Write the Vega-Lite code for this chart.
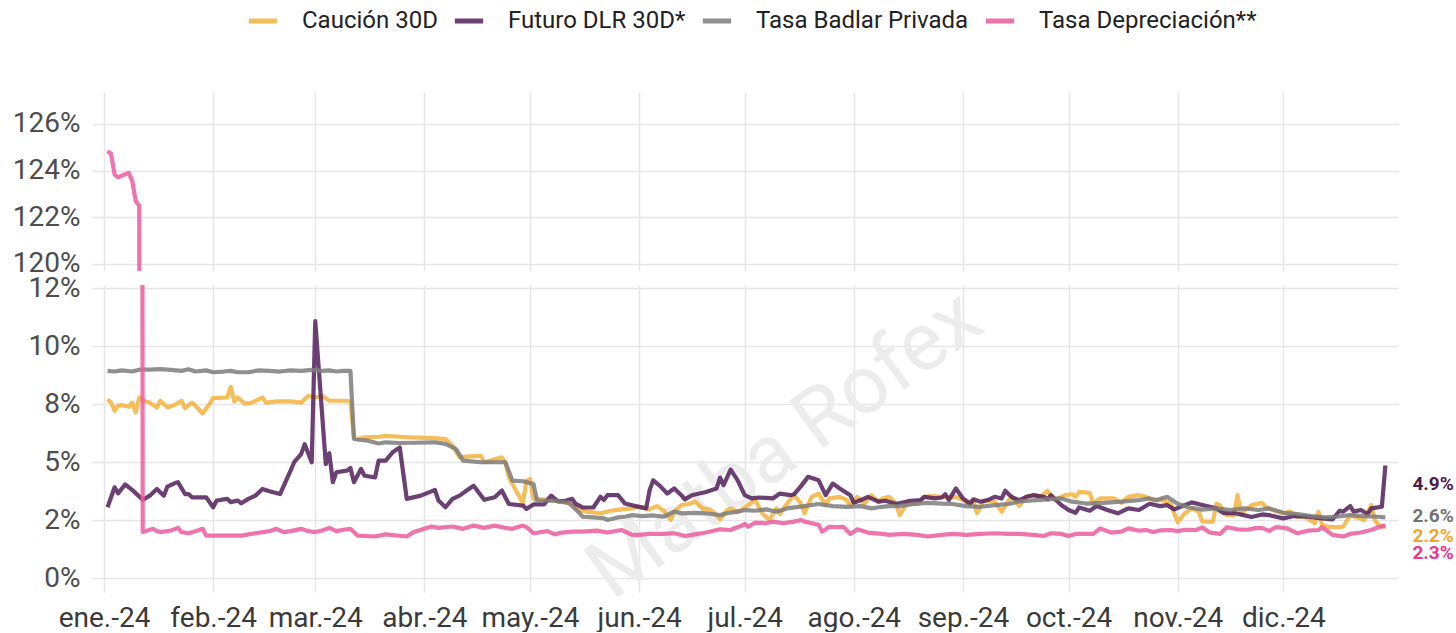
{
  "$schema": "https://vega.github.io/schema/vega-lite/v6.json",
  "background": "white",
  "padding": {"left": 0, "top": 4, "right": 0, "bottom": 0},
  "config": {
    "view": {"stroke": null},
    "font": "Roboto",
    "axis": {"grid": true, "gridColor": "#e6e6e6", "gridWidth": 1.6, "domain": false, "ticks": false, "title": null, "labelFont": "Roboto", "labelFontSize": 28, "labelColor": "#4d4d4d"}
  },
  "datasets": {
    "caucion": [
      {"date":"2024-01-02","value":7.71},{"date":"2024-01-03","value":7.56},{"date":"2024-01-04","value":7.21},{"date":"2024-01-05","value":7.42},{"date":"2024-01-06","value":7.46},{"date":"2024-01-08","value":7.38},{"date":"2024-01-09","value":7.56},{"date":"2024-01-10","value":7.13},{"date":"2024-01-11","value":7.78},{"date":"2024-01-12","value":7.66},{"date":"2024-01-14","value":7.56},{"date":"2024-01-16","value":7.35},{"date":"2024-01-17","value":7.64},{"date":"2024-01-19","value":7.35},{"date":"2024-01-21","value":7.46},{"date":"2024-01-23","value":7.64},{"date":"2024-01-24","value":7.32},{"date":"2024-01-26","value":7.56},{"date":"2024-01-27","value":7.42},{"date":"2024-01-29","value":7.09},{"date":"2024-01-31","value":7.5},
      {"date":"2024-02-01","value":7.75},{"date":"2024-02-05","value":7.78},{"date":"2024-02-06","value":8.24},{"date":"2024-02-07","value":7.61},{"date":"2024-02-08","value":7.78},{"date":"2024-02-10","value":7.52},{"date":"2024-02-12","value":7.56},{"date":"2024-02-15","value":7.78},{"date":"2024-02-16","value":7.56},{"date":"2024-02-19","value":7.61},{"date":"2024-02-23","value":7.61},{"date":"2024-02-26","value":7.56},{"date":"2024-02-28","value":7.85},
      {"date":"2024-03-01","value":7.78},{"date":"2024-03-03","value":7.85},{"date":"2024-03-05","value":7.64},{"date":"2024-03-10","value":7.64},{"date":"2024-03-11","value":7.61},{"date":"2024-03-12","value":6.06},{"date":"2024-03-13","value":5.99},{"date":"2024-03-15","value":6.06},{"date":"2024-03-19","value":6.09},{"date":"2024-03-21","value":6.13},{"date":"2024-03-25","value":6.09},{"date":"2024-03-28","value":6.06},
      {"date":"2024-04-04","value":6.03},{"date":"2024-04-07","value":5.99},{"date":"2024-04-09","value":5.7},{"date":"2024-04-11","value":5.2},{"date":"2024-04-13","value":5.23},{"date":"2024-04-17","value":5.27},{"date":"2024-04-18","value":4.99},{"date":"2024-04-23","value":5.2},{"date":"2024-04-24","value":4.99},{"date":"2024-04-25","value":4.34},{"date":"2024-04-27","value":3.77},{"date":"2024-04-29","value":3.22},{"date":"2024-04-30","value":4.2},
      {"date":"2024-05-01","value":4.27},{"date":"2024-05-02","value":3.41},{"date":"2024-05-04","value":3.4},{"date":"2024-05-07","value":3.36},{"date":"2024-05-10","value":3.29},{"date":"2024-05-13","value":3.19},{"date":"2024-05-15","value":2.93},{"date":"2024-05-17","value":2.86},{"date":"2024-05-21","value":2.79},{"date":"2024-05-24","value":2.9},{"date":"2024-05-27","value":2.96},{"date":"2024-05-30","value":3.0},
      {"date":"2024-06-01","value":3.07},{"date":"2024-06-04","value":2.96},{"date":"2024-06-06","value":3.1},{"date":"2024-06-08","value":2.9},{"date":"2024-06-10","value":2.5},{"date":"2024-06-11","value":2.86},{"date":"2024-06-13","value":3.14},{"date":"2024-06-15","value":3.19},{"date":"2024-06-17","value":3.29},{"date":"2024-06-19","value":3.0},{"date":"2024-06-21","value":2.96},{"date":"2024-06-22","value":2.86},{"date":"2024-06-24","value":2.53},{"date":"2024-06-26","value":2.93},{"date":"2024-06-27","value":3.0},{"date":"2024-06-29","value":2.86},{"date":"2024-06-30","value":2.93},
      {"date":"2024-07-02","value":3.14},{"date":"2024-07-04","value":3.36},{"date":"2024-07-06","value":2.79},{"date":"2024-07-08","value":2.5},{"date":"2024-07-10","value":3.0},{"date":"2024-07-11","value":2.75},{"date":"2024-07-13","value":3.21},{"date":"2024-07-15","value":3.57},{"date":"2024-07-17","value":3.21},{"date":"2024-07-18","value":2.79},{"date":"2024-07-20","value":3.5},{"date":"2024-07-22","value":3.64},{"date":"2024-07-24","value":3.14},{"date":"2024-07-25","value":3.43},{"date":"2024-07-28","value":3.5},{"date":"2024-07-30","value":3.36},{"date":"2024-07-31","value":3.1},
      {"date":"2024-08-02","value":3.5},{"date":"2024-08-04","value":3.21},{"date":"2024-08-06","value":3.57},{"date":"2024-08-08","value":3.29},{"date":"2024-08-09","value":3.43},{"date":"2024-08-11","value":3.5},{"date":"2024-08-13","value":3.21},{"date":"2024-08-14","value":2.71},{"date":"2024-08-16","value":3.19},{"date":"2024-08-19","value":3.19},{"date":"2024-08-21","value":3.5},{"date":"2024-08-23","value":3.53},{"date":"2024-08-26","value":3.5},{"date":"2024-08-28","value":3.47},{"date":"2024-08-30","value":3.5},
      {"date":"2024-09-02","value":3.29},{"date":"2024-09-04","value":3.33},{"date":"2024-09-05","value":2.79},{"date":"2024-09-07","value":3.33},{"date":"2024-09-10","value":3.29},{"date":"2024-09-12","value":2.86},{"date":"2024-09-14","value":3.36},{"date":"2024-09-15","value":3.5},{"date":"2024-09-17","value":3.1},{"date":"2024-09-19","value":3.5},{"date":"2024-09-21","value":3.57},{"date":"2024-09-23","value":3.5},{"date":"2024-09-25","value":3.76},{"date":"2024-09-27","value":3.36},{"date":"2024-09-30","value":3.57},
      {"date":"2024-10-02","value":3.61},{"date":"2024-10-03","value":3.5},{"date":"2024-10-04","value":3.71},{"date":"2024-10-07","value":3.67},{"date":"2024-10-08","value":3.21},{"date":"2024-10-10","value":3.43},{"date":"2024-10-14","value":3.43},{"date":"2024-10-16","value":3.24},{"date":"2024-10-18","value":3.5},{"date":"2024-10-21","value":3.57},{"date":"2024-10-23","value":3.5},{"date":"2024-10-25","value":3.36},{"date":"2024-10-28","value":3.36},{"date":"2024-10-30","value":3.21},
      {"date":"2024-11-01","value":2.4},{"date":"2024-11-03","value":2.79},{"date":"2024-11-05","value":3.0},{"date":"2024-11-07","value":2.86},{"date":"2024-11-08","value":2.43},{"date":"2024-11-11","value":2.43},{"date":"2024-11-12","value":3.21},{"date":"2024-11-13","value":3.14},{"date":"2024-11-15","value":2.71},{"date":"2024-11-17","value":2.71},{"date":"2024-11-18","value":3.57},{"date":"2024-11-19","value":2.79},{"date":"2024-11-22","value":3.14},{"date":"2024-11-25","value":3.24},{"date":"2024-11-26","value":3.07},{"date":"2024-11-28","value":2.93},
      {"date":"2024-12-01","value":2.79},{"date":"2024-12-03","value":2.86},{"date":"2024-12-05","value":2.64},{"date":"2024-12-07","value":2.64},{"date":"2024-12-10","value":2.36},{"date":"2024-12-11","value":2.86},{"date":"2024-12-12","value":2.29},{"date":"2024-12-14","value":2.19},{"date":"2024-12-16","value":2.19},{"date":"2024-12-18","value":2.21},{"date":"2024-12-20","value":2.71},{"date":"2024-12-22","value":2.61},{"date":"2024-12-24","value":2.5},{"date":"2024-12-26","value":3.14},{"date":"2024-12-27","value":2.5},{"date":"2024-12-28","value":2.29},{"date":"2024-12-30","value":2.19}
    ],
    "futuro": [
      {"date":"2024-01-02","value":3.05},{"date":"2024-01-04","value":3.91},{"date":"2024-01-05","value":3.65},{"date":"2024-01-07","value":4.03},{"date":"2024-01-09","value":3.8},{"date":"2024-01-12","value":3.37},{"date":"2024-01-14","value":3.55},{"date":"2024-01-16","value":3.84},{"date":"2024-01-18","value":3.55},{"date":"2024-01-19","value":3.94},{"date":"2024-01-21","value":4.08},{"date":"2024-01-22","value":4.13},{"date":"2024-01-24","value":3.62},{"date":"2024-01-25","value":3.62},{"date":"2024-01-26","value":3.48},{"date":"2024-01-30","value":3.48},
      {"date":"2024-02-01","value":3.05},{"date":"2024-02-02","value":3.34},{"date":"2024-02-05","value":3.41},{"date":"2024-02-06","value":3.27},{"date":"2024-02-08","value":3.34},{"date":"2024-02-09","value":3.22},{"date":"2024-02-11","value":3.41},{"date":"2024-02-13","value":3.55},{"date":"2024-02-15","value":3.84},{"date":"2024-02-17","value":3.74},{"date":"2024-02-20","value":3.62},{"date":"2024-02-23","value":4.63},{"date":"2024-02-24","value":4.99},{"date":"2024-02-26","value":5.34},{"date":"2024-02-27","value":5.77},{"date":"2024-02-29","value":4.99},
      {"date":"2024-03-01","value":11.07},{"date":"2024-03-04","value":4.91},{"date":"2024-03-05","value":5.38},{"date":"2024-03-06","value":4.13},{"date":"2024-03-07","value":4.56},{"date":"2024-03-10","value":4.63},{"date":"2024-03-11","value":4.74},{"date":"2024-03-12","value":4.13},{"date":"2024-03-14","value":4.7},{"date":"2024-03-15","value":4.41},{"date":"2024-03-18","value":4.34},{"date":"2024-03-19","value":5.06},{"date":"2024-03-21","value":5.06},{"date":"2024-03-23","value":5.42},{"date":"2024-03-25","value":5.63},{"date":"2024-03-27","value":3.41},{"date":"2024-03-31","value":3.55},
      {"date":"2024-04-04","value":3.8},{"date":"2024-04-05","value":3.34},{"date":"2024-04-07","value":3.05},{"date":"2024-04-09","value":3.41},{"date":"2024-04-11","value":3.55},{"date":"2024-04-13","value":3.77},{"date":"2024-04-15","value":3.98},{"date":"2024-04-18","value":3.37},{"date":"2024-04-21","value":3.48},{"date":"2024-04-23","value":3.77},{"date":"2024-04-25","value":3.19},{"date":"2024-04-29","value":3.12},{"date":"2024-04-30","value":2.98},
      {"date":"2024-05-02","value":3.17},{"date":"2024-05-05","value":3.17},{"date":"2024-05-07","value":3.55},{"date":"2024-05-09","value":3.3},{"date":"2024-05-11","value":3.33},{"date":"2024-05-13","value":3.41},{"date":"2024-05-14","value":3.19},{"date":"2024-05-16","value":3.04},{"date":"2024-05-19","value":3.04},{"date":"2024-05-21","value":3.5},{"date":"2024-05-22","value":3.36},{"date":"2024-05-23","value":3.57},{"date":"2024-05-26","value":3.57},{"date":"2024-05-28","value":3.21},{"date":"2024-05-31","value":3.1},
      {"date":"2024-06-03","value":3.0},{"date":"2024-06-04","value":3.79},{"date":"2024-06-05","value":4.21},{"date":"2024-06-07","value":3.96},{"date":"2024-06-09","value":3.64},{"date":"2024-06-11","value":3.86},{"date":"2024-06-13","value":3.57},{"date":"2024-06-14","value":3.39},{"date":"2024-06-16","value":3.57},{"date":"2024-06-20","value":3.71},{"date":"2024-06-23","value":3.86},{"date":"2024-06-24","value":4.33},{"date":"2024-06-25","value":4.0},{"date":"2024-06-27","value":4.67},{"date":"2024-06-29","value":4.21},
      {"date":"2024-07-01","value":3.57},{"date":"2024-07-03","value":3.43},{"date":"2024-07-05","value":3.47},{"date":"2024-07-09","value":3.43},{"date":"2024-07-11","value":3.64},{"date":"2024-07-14","value":3.57},{"date":"2024-07-15","value":3.61},{"date":"2024-07-17","value":3.96},{"date":"2024-07-19","value":4.36},{"date":"2024-07-22","value":4.21},{"date":"2024-07-24","value":3.57},{"date":"2024-07-26","value":4.07},{"date":"2024-07-28","value":3.86},{"date":"2024-07-31","value":3.57},
      {"date":"2024-08-01","value":3.24},{"date":"2024-08-03","value":3.36},{"date":"2024-08-05","value":3.5},{"date":"2024-08-08","value":3.29},{"date":"2024-08-10","value":3.33},{"date":"2024-08-13","value":3.19},{"date":"2024-08-17","value":3.33},{"date":"2024-08-20","value":3.36},{"date":"2024-08-21","value":3.5},{"date":"2024-08-24","value":3.43},{"date":"2024-08-26","value":3.47},{"date":"2024-08-27","value":3.61},{"date":"2024-08-28","value":3.36},{"date":"2024-08-30","value":3.86},
      {"date":"2024-09-01","value":3.43},{"date":"2024-09-03","value":3.19},{"date":"2024-09-04","value":3.39},{"date":"2024-09-06","value":3.29},{"date":"2024-09-08","value":3.36},{"date":"2024-09-10","value":3.5},{"date":"2024-09-12","value":3.43},{"date":"2024-09-13","value":3.76},{"date":"2024-09-15","value":3.47},{"date":"2024-09-17","value":3.36},{"date":"2024-09-19","value":3.5},{"date":"2024-09-21","value":3.57},{"date":"2024-09-24","value":3.5},{"date":"2024-09-25","value":3.39},{"date":"2024-09-26","value":3.57},{"date":"2024-09-29","value":3.14},
      {"date":"2024-10-01","value":2.93},{"date":"2024-10-03","value":2.81},{"date":"2024-10-04","value":3.04},{"date":"2024-10-07","value":2.9},{"date":"2024-10-09","value":3.1},{"date":"2024-10-12","value":2.93},{"date":"2024-10-15","value":2.79},{"date":"2024-10-18","value":3.0},{"date":"2024-10-21","value":2.93},{"date":"2024-10-24","value":3.2},{"date":"2024-10-27","value":3.1},{"date":"2024-10-29","value":3.14},{"date":"2024-10-31","value":2.96},
      {"date":"2024-11-03","value":3.14},{"date":"2024-11-05","value":3.26},{"date":"2024-11-08","value":3.15},{"date":"2024-11-12","value":3.0},{"date":"2024-11-14","value":2.8},{"date":"2024-11-17","value":2.8},{"date":"2024-11-20","value":2.7},{"date":"2024-11-22","value":2.63},{"date":"2024-11-25","value":2.74},{"date":"2024-11-27","value":2.71},
      {"date":"2024-12-01","value":2.57},{"date":"2024-12-04","value":2.67},{"date":"2024-12-08","value":2.64},{"date":"2024-12-12","value":2.57},{"date":"2024-12-15","value":2.53},{"date":"2024-12-17","value":2.9},{"date":"2024-12-18","value":2.86},{"date":"2024-12-20","value":3.1},{"date":"2024-12-21","value":2.86},{"date":"2024-12-23","value":2.93},{"date":"2024-12-25","value":2.76},{"date":"2024-12-26","value":3.0},{"date":"2024-12-29","value":3.07},{"date":"2024-12-30","value":4.85}
    ],
    "badlar": [
      {"date":"2024-01-02","value":8.93},{"date":"2024-01-04","value":8.9},{"date":"2024-01-06","value":8.95},{"date":"2024-01-09","value":8.9},{"date":"2024-01-11","value":8.98},{"date":"2024-01-14","value":8.98},{"date":"2024-01-17","value":9.0},{"date":"2024-01-20","value":8.97},{"date":"2024-01-23","value":8.93},{"date":"2024-01-25","value":9.0},{"date":"2024-01-27","value":8.9},{"date":"2024-01-30","value":8.95},
      {"date":"2024-02-01","value":8.87},{"date":"2024-02-04","value":8.9},{"date":"2024-02-06","value":8.93},{"date":"2024-02-08","value":8.87},{"date":"2024-02-11","value":8.87},{"date":"2024-02-14","value":8.95},{"date":"2024-02-17","value":8.93},{"date":"2024-02-20","value":8.9},{"date":"2024-02-23","value":8.95},{"date":"2024-02-26","value":8.93},{"date":"2024-02-29","value":8.97},
      {"date":"2024-03-03","value":8.93},{"date":"2024-03-05","value":8.95},{"date":"2024-03-07","value":8.9},{"date":"2024-03-09","value":8.93},{"date":"2024-03-11","value":8.93},{"date":"2024-03-12","value":6.0},{"date":"2024-03-14","value":5.95},{"date":"2024-03-16","value":5.92},{"date":"2024-03-19","value":5.8},{"date":"2024-03-21","value":5.85},{"date":"2024-03-25","value":5.82},{"date":"2024-03-29","value":5.83},
      {"date":"2024-04-04","value":5.85},{"date":"2024-04-07","value":5.78},{"date":"2024-04-10","value":5.56},{"date":"2024-04-12","value":5.06},{"date":"2024-04-17","value":4.99},{"date":"2024-04-24","value":4.99},{"date":"2024-04-26","value":4.2},{"date":"2024-04-29","value":4.17},
      {"date":"2024-05-02","value":4.05},{"date":"2024-05-03","value":3.34},{"date":"2024-05-08","value":3.33},{"date":"2024-05-12","value":3.24},{"date":"2024-05-15","value":2.81},{"date":"2024-05-16","value":2.64},{"date":"2024-05-19","value":2.61},{"date":"2024-05-22","value":2.57},{"date":"2024-05-23","value":2.5},{"date":"2024-05-26","value":2.61},{"date":"2024-05-28","value":2.64},{"date":"2024-05-30","value":2.71},
      {"date":"2024-06-02","value":2.67},{"date":"2024-06-05","value":2.7},{"date":"2024-06-08","value":2.64},{"date":"2024-06-11","value":2.86},{"date":"2024-06-13","value":2.79},{"date":"2024-06-17","value":2.81},{"date":"2024-06-20","value":2.79},{"date":"2024-06-24","value":2.71},{"date":"2024-06-26","value":2.79},{"date":"2024-06-29","value":2.86},
      {"date":"2024-07-01","value":2.93},{"date":"2024-07-04","value":2.9},{"date":"2024-07-07","value":2.96},{"date":"2024-07-10","value":2.86},{"date":"2024-07-13","value":3.0},{"date":"2024-07-18","value":3.1},{"date":"2024-07-22","value":3.19},{"date":"2024-07-26","value":3.1},{"date":"2024-07-30","value":3.07},
      {"date":"2024-08-03","value":3.1},{"date":"2024-08-06","value":3.0},{"date":"2024-08-09","value":3.07},{"date":"2024-08-11","value":3.1},{"date":"2024-08-14","value":3.1},{"date":"2024-08-18","value":3.19},{"date":"2024-08-22","value":3.24},{"date":"2024-08-26","value":3.21},{"date":"2024-08-29","value":3.19},
      {"date":"2024-09-02","value":3.1},{"date":"2024-09-06","value":3.07},{"date":"2024-09-10","value":3.14},{"date":"2024-09-14","value":3.19},{"date":"2024-09-17","value":3.3},{"date":"2024-09-21","value":3.35},{"date":"2024-09-25","value":3.39},{"date":"2024-09-29","value":3.43},
      {"date":"2024-10-02","value":3.29},{"date":"2024-10-06","value":3.21},{"date":"2024-10-11","value":3.24},{"date":"2024-10-16","value":3.29},{"date":"2024-10-21","value":3.36},{"date":"2024-10-24","value":3.43},{"date":"2024-10-26","value":3.36},{"date":"2024-10-29","value":3.5},
      {"date":"2024-11-01","value":3.2},{"date":"2024-11-04","value":3.05},{"date":"2024-11-08","value":2.95},{"date":"2024-11-12","value":3.0},{"date":"2024-11-16","value":2.93},{"date":"2024-11-20","value":3.0},{"date":"2024-11-24","value":2.93},{"date":"2024-11-27","value":3.0},
      {"date":"2024-12-01","value":2.81},{"date":"2024-12-05","value":2.76},{"date":"2024-12-09","value":2.67},{"date":"2024-12-13","value":2.61},{"date":"2024-12-16","value":2.64},{"date":"2024-12-20","value":2.71},{"date":"2024-12-24","value":2.67},{"date":"2024-12-28","value":2.64},{"date":"2024-12-30","value":2.61}
    ],
    "depreciacion": [
      {"date":"2024-01-02","value":124.83},{"date":"2024-01-03","value":124.71},{"date":"2024-01-04","value":123.83},{"date":"2024-01-05","value":123.71},{"date":"2024-01-08","value":123.9},{"date":"2024-01-09","value":123.57},{"date":"2024-01-10","value":122.69},{"date":"2024-01-11","value":122.5},{"date":"2024-01-12","value":1.98},{"date":"2024-01-15","value":2.12},{"date":"2024-01-16","value":2.02},{"date":"2024-01-17","value":1.98},{"date":"2024-01-20","value":2.05},{"date":"2024-01-22","value":2.16},{"date":"2024-01-23","value":1.98},{"date":"2024-01-25","value":1.93},{"date":"2024-01-27","value":2.02},{"date":"2024-01-29","value":2.12},{"date":"2024-01-30","value":1.83},
      {"date":"2024-02-04","value":1.83},{"date":"2024-02-09","value":1.83},{"date":"2024-02-13","value":1.93},{"date":"2024-02-17","value":2.02},{"date":"2024-02-19","value":2.12},{"date":"2024-02-21","value":1.98},{"date":"2024-02-23","value":2.02},{"date":"2024-02-26","value":2.12},{"date":"2024-02-28","value":2.02},
      {"date":"2024-03-01","value":1.98},{"date":"2024-03-03","value":2.05},{"date":"2024-03-05","value":2.16},{"date":"2024-03-07","value":2.02},{"date":"2024-03-09","value":2.08},{"date":"2024-03-11","value":2.12},{"date":"2024-03-13","value":1.83},{"date":"2024-03-18","value":1.79},{"date":"2024-03-21","value":1.88},{"date":"2024-03-27","value":1.79},{"date":"2024-03-29","value":1.98},
      {"date":"2024-04-03","value":2.22},{"date":"2024-04-05","value":2.16},{"date":"2024-04-09","value":2.22},{"date":"2024-04-12","value":2.12},{"date":"2024-04-15","value":2.26},{"date":"2024-04-18","value":2.16},{"date":"2024-04-21","value":2.26},{"date":"2024-04-24","value":2.16},{"date":"2024-04-26","value":2.12},{"date":"2024-04-29","value":2.26},{"date":"2024-04-30","value":2.19},
      {"date":"2024-05-02","value":1.93},{"date":"2024-05-06","value":2.02},{"date":"2024-05-08","value":1.88},{"date":"2024-05-10","value":1.96},{"date":"2024-05-13","value":2.0},{"date":"2024-05-16","value":2.0},{"date":"2024-05-20","value":2.04},{"date":"2024-05-23","value":1.96},{"date":"2024-05-27","value":2.07},{"date":"2024-05-30","value":1.86},
      {"date":"2024-06-01","value":1.86},{"date":"2024-06-04","value":1.9},{"date":"2024-06-08","value":1.9},{"date":"2024-06-11","value":1.93},{"date":"2024-06-14","value":1.81},{"date":"2024-06-16","value":1.86},{"date":"2024-06-20","value":1.96},{"date":"2024-06-24","value":2.1},{"date":"2024-06-27","value":2.07},{"date":"2024-06-28","value":2.14},{"date":"2024-06-30","value":2.24},
      {"date":"2024-07-01","value":2.33},{"date":"2024-07-02","value":2.21},{"date":"2024-07-04","value":2.39},{"date":"2024-07-07","value":2.36},{"date":"2024-07-09","value":2.43},{"date":"2024-07-12","value":2.36},{"date":"2024-07-15","value":2.43},{"date":"2024-07-17","value":2.5},{"date":"2024-07-18","value":2.43},{"date":"2024-07-21","value":2.33},{"date":"2024-07-22","value":2.29},{"date":"2024-07-23","value":2.0},{"date":"2024-07-25","value":2.21},{"date":"2024-07-28","value":2.19},{"date":"2024-07-29","value":2.21},{"date":"2024-07-31","value":1.9},
      {"date":"2024-08-02","value":2.1},{"date":"2024-08-05","value":1.96},{"date":"2024-08-09","value":1.9},{"date":"2024-08-11","value":1.86},{"date":"2024-08-15","value":1.9},{"date":"2024-08-19","value":1.86},{"date":"2024-08-22","value":1.79},{"date":"2024-08-26","value":1.86},{"date":"2024-08-29","value":1.9},
      {"date":"2024-09-02","value":1.86},{"date":"2024-09-06","value":1.9},{"date":"2024-09-10","value":1.93},{"date":"2024-09-14","value":1.9},{"date":"2024-09-17","value":1.9},{"date":"2024-09-21","value":1.86},{"date":"2024-09-24","value":1.81},{"date":"2024-09-26","value":1.93},{"date":"2024-09-29","value":1.9},
      {"date":"2024-10-01","value":1.81},{"date":"2024-10-03","value":1.9},{"date":"2024-10-08","value":1.9},{"date":"2024-10-10","value":2.14},{"date":"2024-10-13","value":1.96},{"date":"2024-10-16","value":2.0},{"date":"2024-10-18","value":2.14},{"date":"2024-10-21","value":2.04},{"date":"2024-10-23","value":2.07},{"date":"2024-10-25","value":1.98},{"date":"2024-10-27","value":2.05},{"date":"2024-10-30","value":2.07},
      {"date":"2024-11-01","value":2.02},{"date":"2024-11-03","value":2.08},{"date":"2024-11-06","value":2.06},{"date":"2024-11-08","value":2.18},{"date":"2024-11-10","value":1.97},{"date":"2024-11-13","value":1.9},{"date":"2024-11-15","value":2.19},{"date":"2024-11-18","value":2.1},{"date":"2024-11-21","value":2.08},{"date":"2024-11-23","value":2.15},{"date":"2024-11-25","value":2.15},{"date":"2024-11-27","value":2.03},{"date":"2024-11-29","value":2.2},
      {"date":"2024-12-02","value":2.14},{"date":"2024-12-05","value":1.93},{"date":"2024-12-08","value":2.04},{"date":"2024-12-11","value":2.07},{"date":"2024-12-12","value":2.19},{"date":"2024-12-15","value":1.86},{"date":"2024-12-18","value":1.79},{"date":"2024-12-20","value":1.9},{"date":"2024-12-23","value":1.96},{"date":"2024-12-26","value":2.07},{"date":"2024-12-28","value":2.19},{"date":"2024-12-30","value":2.26}
    ],
    "labels": [
      {"serie":"Futuro DLR 30D*","date":"2024-12-30","value":4.85,"label":"4.9%"},
      {"serie":"Tasa Badlar Privada","date":"2024-12-30","value":2.61,"label":"2.6%"},
      {"serie":"Caución 30D","date":"2024-12-30","value":2.19,"label":"2.2%"},
      {"serie":"Tasa Depreciación**","date":"2024-12-30","value":2.26,"label":"2.3%"}
    ],
    "watermark": [
      {"date":"2024-07-12T12:00:00Z","value":5.73,"text":"Matba Rofex"}
    ]
  },
  "spacing": 14,
  "bounds": "flush",
  "vconcat": [
    {
      "width": 1306,
      "height": 179,
      "data": {"name": "depreciacion"},
      "mark": {"type": "line", "clip": true, "color": "#EC5A9E", "opacity": 0.85, "strokeWidth": 4.2, "strokeJoin": "round"},
      "encoding": {
        "x": {"field": "date", "type": "temporal",
          "scale": {"type": "utc", "domain": [{"year":2023,"month":12,"date":28,"hours":14,"utc":true},{"year":2025,"month":1,"date":2,"hours":14,"utc":true}]},
          "axis": {"labels": false, "grid": true, "values": [{"year":2024,"month":1,"date":1,"utc":true},{"year":2024,"month":2,"date":1,"utc":true},{"year":2024,"month":3,"date":1,"utc":true},{"year":2024,"month":4,"date":1,"utc":true},{"year":2024,"month":5,"date":1,"utc":true},{"year":2024,"month":6,"date":1,"utc":true},{"year":2024,"month":7,"date":1,"utc":true},{"year":2024,"month":8,"date":1,"utc":true},{"year":2024,"month":9,"date":1,"utc":true},{"year":2024,"month":10,"date":1,"utc":true},{"year":2024,"month":11,"date":1,"utc":true},{"year":2024,"month":12,"date":1,"utc":true}]}},
        "y": {"field": "value", "type": "quantitative",
          "scale": {"domain": [119.69, 127.37], "nice": false, "zero": false},
          "axis": {"values": [120, 122, 124, 126], "labelExpr": "datum.value + '%'", "minExtent": 92, "maxExtent": 92, "labelPadding": 12}}
      }
    },
    {
      "width": 1306,
      "height": 307,
      "encoding": {
        "x": {"field": "date", "type": "temporal",
          "scale": {"type": "utc", "domain": [{"year":2023,"month":12,"date":28,"hours":14,"utc":true},{"year":2025,"month":1,"date":2,"hours":14,"utc":true}]},
          "axis": {"grid": true, "labelPadding": 12, "labelColor": "#3a3a3a", "labelExpr": "['ene.','feb.','mar.','abr.','may.','jun.','jul.','ago.','sep.','oct.','nov.','dic.'][utcmonth(datum.value)] + '-24'",
            "values": [{"year":2024,"month":1,"date":1,"utc":true},{"year":2024,"month":2,"date":1,"utc":true},{"year":2024,"month":3,"date":1,"utc":true},{"year":2024,"month":4,"date":1,"utc":true},{"year":2024,"month":5,"date":1,"utc":true},{"year":2024,"month":6,"date":1,"utc":true},{"year":2024,"month":7,"date":1,"utc":true},{"year":2024,"month":8,"date":1,"utc":true},{"year":2024,"month":9,"date":1,"utc":true},{"year":2024,"month":10,"date":1,"utc":true},{"year":2024,"month":11,"date":1,"utc":true},{"year":2024,"month":12,"date":1,"utc":true}]}},
        "y": {"field": "value", "type": "quantitative",
          "scale": {"domain": [-0.603, 12.63], "nice": false, "zero": false},
          "axis": {"values": [0, 2.5, 5, 7.5, 10, 12.5], "labelExpr": "datum.value == 2.5 ? '2%' : datum.value == 7.5 ? '8%' : datum.value == 12.5 ? '12%' : datum.value + '%'", "minExtent": 92, "maxExtent": 92, "labelPadding": 12}}
      },
      "layer": [
        {
          "data": {"name": "watermark"},
          "mark": {"type": "text", "angle": -36, "fontSize": 82, "font": "Roboto", "color": "#ececec", "align": "center", "baseline": "middle"},
          "encoding": {"text": {"field": "text"}}
        },
        {
          "data": {"name": "caucion"},
          "mark": {"type": "line", "clip": true, "opacity": 0.85, "strokeWidth": 4.2, "strokeJoin": "round"},
          "encoding": {
            "color": {"datum": "Caución 30D", "type": "nominal",
              "scale": {"domain": ["Caución 30D", "Futuro DLR 30D*", "Tasa Badlar Privada", "Tasa Depreciación**"], "range": ["#F4B23E", "#51205A", "#7D7D7D", "#EC5A9E"]},
              "legend": {"orient": "none", "legendX": 154, "legendY": -88, "direction": "horizontal", "columns": 4, "title": null, "padding": 0,
                "symbolType": "stroke", "symbolSize": 800, "symbolStrokeWidth": 5, "symbolOpacity": 0.85,
                "labelFont": "Roboto", "labelFontSize": 24, "labelColor": "#222222", "labelOffset": 22, "labelLimit": 0, "columnPadding": 6}}
          }
        },
        {
          "data": {"name": "futuro"},
          "mark": {"type": "line", "clip": true, "opacity": 0.85, "strokeWidth": 4.2, "strokeJoin": "round"},
          "encoding": {"color": {"datum": "Futuro DLR 30D*", "type": "nominal"}}
        },
        {
          "data": {"name": "badlar"},
          "mark": {"type": "line", "clip": true, "opacity": 0.85, "strokeWidth": 4.2, "strokeJoin": "round"},
          "encoding": {"color": {"datum": "Tasa Badlar Privada", "type": "nominal"}}
        },
        {
          "data": {"name": "depreciacion"},
          "mark": {"type": "line", "clip": true, "opacity": 0.85, "strokeWidth": 4.2, "strokeJoin": "round"},
          "encoding": {"color": {"datum": "Tasa Depreciación**", "type": "nominal"}}
        },
        {
          "data": {"name": "labels"},
          "transform": [{"filter": "datum.serie == 'Futuro DLR 30D*'"}],
          "mark": {"type": "text", "align": "left", "baseline": "middle", "dx": 27, "dy": 19, "font": "Roboto", "fontSize": 19, "fontWeight": "bold", "color": "#4A1A50"},
          "encoding": {"text": {"field": "label"}}
        },
        {
          "data": {"name": "labels"},
          "transform": [{"filter": "datum.serie == 'Tasa Badlar Privada'"}],
          "mark": {"type": "text", "align": "left", "baseline": "middle", "dx": 27, "dy": -1, "font": "Roboto", "fontSize": 19, "fontWeight": "bold", "color": "#737373"},
          "encoding": {"text": {"field": "label"}}
        },
        {
          "data": {"name": "labels"},
          "transform": [{"filter": "datum.serie == 'Caución 30D'"}],
          "mark": {"type": "text", "align": "left", "baseline": "middle", "dx": 27, "dy": 9, "font": "Roboto", "fontSize": 19, "fontWeight": "bold", "color": "#F2A52B"},
          "encoding": {"text": {"field": "label"}}
        },
        {
          "data": {"name": "labels"},
          "transform": [{"filter": "datum.serie == 'Tasa Depreciación**'"}],
          "mark": {"type": "text", "align": "left", "baseline": "middle", "dx": 27, "dy": 27, "font": "Roboto", "fontSize": 19, "fontWeight": "bold", "color": "#E8388A"},
          "encoding": {"text": {"field": "label"}}
        }
      ]
    }
  ]
}
